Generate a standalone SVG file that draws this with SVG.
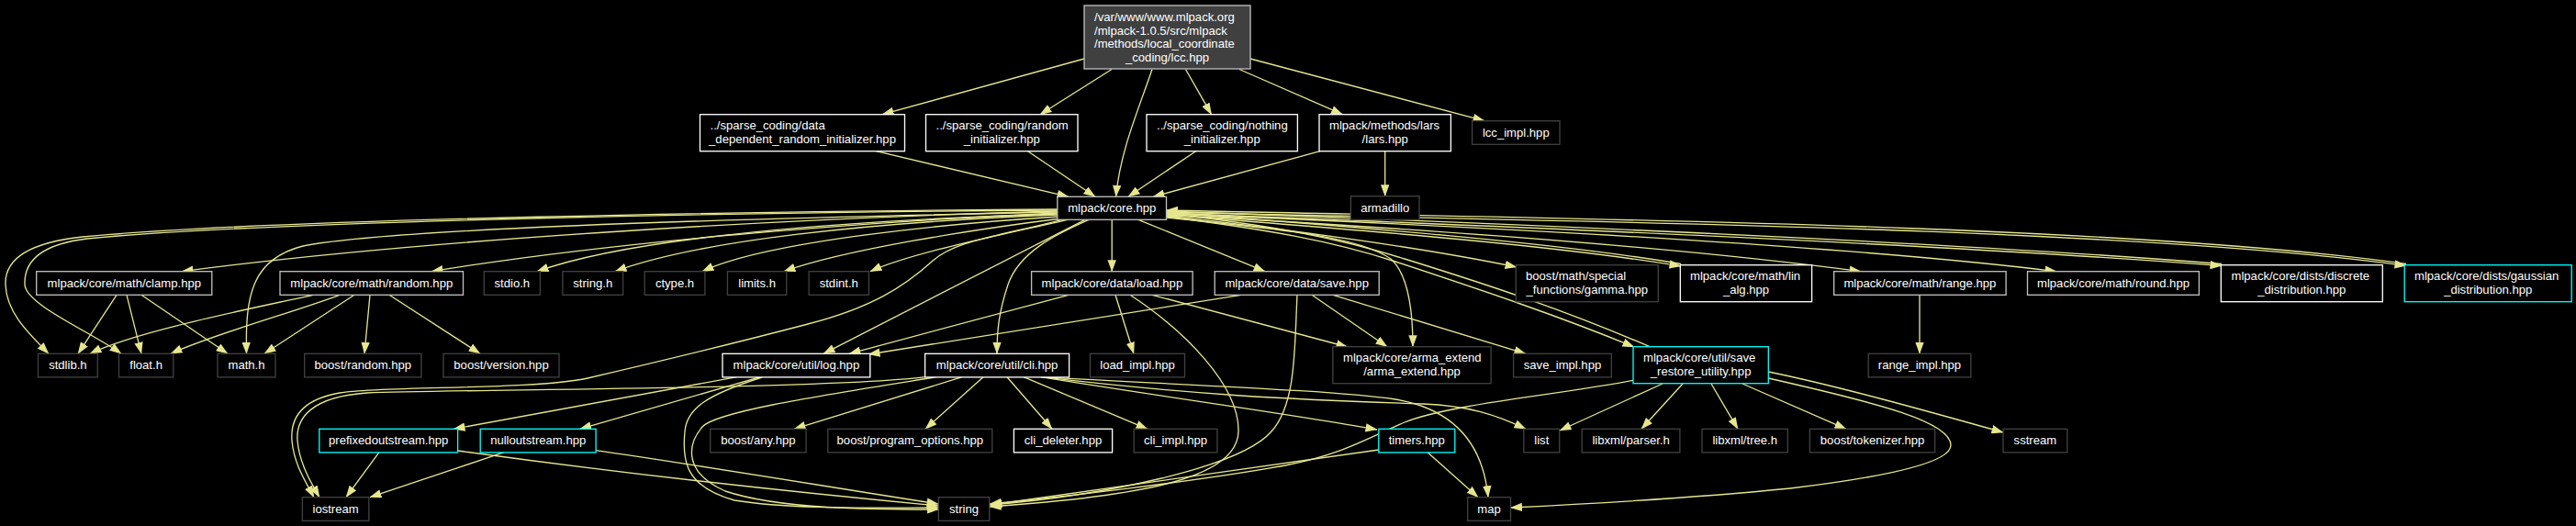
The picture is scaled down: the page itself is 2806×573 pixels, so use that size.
<svg xmlns="http://www.w3.org/2000/svg" width="2806" height="573" viewBox="0 0 2806 573">
<defs>
<marker id="ah" viewBox="0 0 13 9.4" refX="12.5" refY="4.7" markerWidth="13" markerHeight="9.4" markerUnits="userSpaceOnUse" orient="auto"><path d="M0,0 L13,4.7 L0,9.4 z" fill="#e6e68f"/></marker>
<style>
rect.b { fill:#000; stroke-width:1.33; }
.doc { stroke:#ffffff; }
.grey { stroke:#bfbfbf; }
.ext { stroke:#404040; }
.trunc { stroke:#00ffff; }
text { font-family:"Liberation Sans", Arial, sans-serif; font-size:13.1px; fill:#ffffff; }
.c { text-anchor:middle; }
#edges path { fill:none; stroke:#e6e68f; stroke-width:1.33; marker-end:url(#ah); }
</style>
</defs>
<rect x="0" y="0" width="2806" height="573" fill="#000"/>
<g id="edges">
<path d="M1181,64 L961,124.7"/>
<path d="M1211,75.5 L1133,124.7"/>
<path d="M1255,75.5 C1240,120 1220,165 1215.6,214.3"/>
<path d="M1291.5,75.5 L1319.6,124.7"/>
<path d="M1350,75.5 L1462.5,124.7"/>
<path d="M1362,64 L1617,131.7"/>
<path d="M954.5,164.7 L1164,214.3"/>
<path d="M1119.6,164.7 L1193,214.3"/>
<path d="M1302.6,164.7 L1229,214.3"/>
<path d="M1438,164.7 L1256,214.3"/>
<path d="M1508.7,164.7 L1508.7,213.7"/>
<path d="M1152,228 C850,230 300,238 90,258 C25,265 5,285 6,310 C7,340 30,362 53,385.3"/>
<path d="M1152,229 C850,231 300,240 95,260 C45,266 26,285 27,310 C28,332 100,362 132,385.3"/>
<path d="M1152,230 C850,238 450,262 198,295.7"/>
<path d="M1152,231 C800,238 420,250 330,268 C275,282 267,320 268.5,385.3"/>
<path d="M1152,232 C900,244 650,266 470,295.7"/>
<path d="M1152,233 C920,240 690,258 585,295.7"/>
<path d="M1152,234 C950,242 760,262 670,295.7"/>
<path d="M1153,236 C1010,245 830,265 765,295.7"/>
<path d="M1156,238 C1060,250 920,272 854,295.7"/>
<path d="M1163,239.3 C1090,256 990,276 948,295.7"/>
<path d="M1182,239.3 L897,385.3"/>
<path d="M1157,239.3 C1085,258 1040,262 1015,285 C985,312 950,335 880,353 C800,374 700,398 640,412 C580,425 420,420 370,428 C330,435 316,455 318,480 C320,505 333,525 342,541.7"/>
<path d="M1186,239.3 C1150,255 1110,275 1098,310 C1088,340 1086,360 1086,385.3"/>
<path d="M1211.2,239.3 L1211.2,295.7"/>
<path d="M1240,239.3 L1378,295.7"/>
<path d="M1270.5,237 C1400,250 1480,258 1515,282 C1535,300 1539,340 1539,377.7"/>
<path d="M1270.5,235 C1420,252 1560,272 1652,291"/>
<path d="M1270.5,234 C1500,252 1700,268 1831,290"/>
<path d="M1831,287.5 C1700,265 1500,249 1270.5,231.5"/>
<path d="M1270.5,234 C1600,252 1850,272 2027,295.7"/>
<path d="M1270.5,233 C1700,250 2050,272 2240,295.7"/>
<path d="M1270.5,232 C1600,245 2100,265 2420,289.5"/>
<path d="M2420,287.5 C2100,262 1600,242 1270.5,230"/>
<path d="M1270.5,231 C1600,240 2300,245 2621,289.5"/>
<path d="M2621,287.5 C2300,242 1600,237 1270.5,229"/>
<path d="M1270.5,236 C1380,250 1450,262 1520,285 C1620,318 1700,345 1780,378"/>
<path d="M1797,377.7 C1710,340 1630,313 1530,282 C1460,260 1390,246 1270.5,232.5"/>
<path d="M1164,321.3 L925,385.3"/>
<path d="M1215,321.3 L1235,385.3"/>
<path d="M1255,321.3 L1468,378"/>
<path d="M1231,321.3 C1290,360 1350,420 1349,470 C1348,520 1250,540 1078,552"/>
<path d="M1352,321.3 L946,386"/>
<path d="M1429,321.3 L1511,377.7"/>
<path d="M1452,321.3 L1662,385.3"/>
<path d="M1413,321.3 C1410,380 1412,440 1385,470 C1350,510 1200,540 1078,550"/>
<path d="M802.6,410.7 L494,467.3"/>
<path d="M828,410.7 L631.6,467.3"/>
<path d="M830,411 C770,430 748,445 746,470 C743,500 745,530 800,545 C860,555 950,553 1022,553"/>
<path d="M1020,410.7 C900,430 780,448 765,465 C748,485 745,515 790,535 C850,555 950,555 1022,555"/>
<path d="M1008,410.7 C900,424 500,424 400,428 C340,432 322,455 324,480 C326,505 340,528 348,541.7"/>
<path d="M1048,410.7 L865,467.3"/>
<path d="M1071,410.7 L1008,467.3"/>
<path d="M1097,410.7 L1146,467.3"/>
<path d="M1115,410.7 L1250,467.3"/>
<path d="M1134,410.7 C1250,430 1400,450 1500,468"/>
<path d="M1134,410.7 C1300,430 1400,435 1550,440 C1600,442 1630,452 1662,467.3"/>
<path d="M1134,410.7 C1300,420 1450,425 1520,435 C1580,445 1615,480 1621,541.7"/>
<path d="M1502,490 L1079,550"/>
<path d="M1555,492.7 L1610,541.7"/>
<path d="M1781,414 C1700,430 1580,440 1530,460 C1480,482 1460,495 1400,507 C1300,525 1150,542 1078,549"/>
<path d="M1811,418 L1699,469"/>
<path d="M1833,418 L1788,467.3"/>
<path d="M1864,418 L1893,467.3"/>
<path d="M1898,418 L2011,467.3"/>
<path d="M1926.3,405 C2000,420 2100,448 2182,471"/>
<path d="M1926.3,412 C2050,440 2125,460 2125,485 C2125,505 2050,520 1950,532 C1850,542 1750,548 1645.5,553"/>
<path d="M413,492.7 L377,541.7"/>
<path d="M498.6,491 C600,505 800,530 1022,551"/>
<path d="M549,492.7 L403,541.7"/>
<path d="M649,490.7 C750,505 900,530 1022,549"/>
<path d="M341,321.3 C280,335 150,360 98,385.3"/>
<path d="M370,321.3 C320,340 230,365 186,385.3"/>
<path d="M386,321.3 L288,385.3"/>
<path d="M403,321.3 L397,385.3"/>
<path d="M424,321.3 L523,385.3"/>
<path d="M127,321.3 L85,385.3"/>
<path d="M138,321.3 L154,385.3"/>
<path d="M154,321.3 L248,385.3"/>
<path d="M2091,321.3 L2091,385.3"/>
</g>
<g id="n0"><rect x="1181" y="6" width="181" height="69" fill="#404040" stroke="#bfbfbf" stroke-width="1.33"/><text x="1192" y="22.8">/var/www/www.mlpack.org</text><text x="1192" y="37.5">/mlpack-1.0.5/src/mlpack</text><text x="1192" y="52.1">/methods/local_coordinate</text><text class="c" x="1271.5" y="66.8">_coding/lcc.hpp</text></g>
<g id="n1"><rect class="b doc" x="762.5" y="124.7" width="223" height="40"/><text x="773.5" y="141">../sparse_coding/data</text><text class="c" x="874" y="155.7">_dependent_random_initializer.hpp</text></g>
<g id="n2"><rect class="b doc" x="1008.5" y="124.7" width="165.5" height="40"/><text x="1019.5" y="141">../sparse_coding/random</text><text class="c" x="1091.3" y="155.7">_initializer.hpp</text></g>
<g id="n3"><rect class="b doc" x="1249" y="124.7" width="164.4" height="40"/><text x="1260" y="141">../sparse_coding/nothing</text><text class="c" x="1331.2" y="155.7">_initializer.hpp</text></g>
<g id="n4"><rect class="b doc" x="1437" y="124.7" width="143.4" height="40"/><text x="1448" y="141">mlpack/methods/lars</text><text class="c" x="1508.7" y="155.7">/lars.hpp</text></g>
<g id="n5"><rect class="b ext" x="1603.6" y="131.7" width="95.4" height="25.6"/><text class="c" x="1651.3" y="148.8">lcc_impl.hpp</text></g>
<g id="n6"><rect class="b ext" x="1471.4" y="213.7" width="74.6" height="25.6"/><text class="c" x="1508.7" y="230.8">armadillo</text></g>
<g id="n7"><rect class="b grey" x="1151.8" y="214.3" width="118.7" height="25"/><text class="c" x="1211.2" y="231.1">mlpack/core.hpp</text></g>
<g id="n8"><rect class="b grey" x="39.7" y="295.7" width="191.1" height="25.6"/><text class="c" x="135.3" y="312.8">mlpack/core/math/clamp.hpp</text></g>
<g id="n9"><rect class="b grey" x="305" y="295.7" width="199.5" height="25.6"/><text class="c" x="404.8" y="312.8">mlpack/core/math/random.hpp</text></g>
<g id="n10"><rect class="b ext" x="527.2" y="295.7" width="61.2" height="25.6"/><text class="c" x="557.8" y="312.8">stdio.h</text></g>
<g id="n11"><rect class="b ext" x="612.9" y="295.7" width="65.7" height="25.6"/><text class="c" x="645.8" y="312.8">string.h</text></g>
<g id="n12"><rect class="b ext" x="702.2" y="295.7" width="65.7" height="25.6"/><text class="c" x="735" y="312.8">ctype.h</text></g>
<g id="n13"><rect class="b ext" x="792.4" y="295.7" width="64.3" height="25.6"/><text class="c" x="824.6" y="312.8">limits.h</text></g>
<g id="n14"><rect class="b ext" x="881.2" y="295.7" width="65.2" height="25.6"/><text class="c" x="913.8" y="312.8">stdint.h</text></g>
<g id="n15"><rect class="b grey" x="1123.6" y="295.7" width="175.5" height="25.6"/><text class="c" x="1211.4" y="312.8">mlpack/core/data/load.hpp</text></g>
<g id="n16"><rect class="b grey" x="1323.2" y="295.7" width="179" height="25.6"/><text class="c" x="1412.7" y="312.8">mlpack/core/data/save.hpp</text></g>
<g id="n17"><rect class="b ext" x="1651.3" y="288.7" width="155" height="40"/><text x="1662" y="305">boost/math/special</text><text class="c" x="1728.8" y="319.7">_functions/gamma.hpp</text></g>
<g id="n18"><rect class="b doc" x="1830.3" y="288.7" width="143.3" height="40"/><text x="1841" y="305">mlpack/core/math/lin</text><text class="c" x="1902" y="319.7">_alg.hpp</text></g>
<g id="n19"><rect class="b grey" x="1997.7" y="295.7" width="187.4" height="25.6"/><text class="c" x="2091.4" y="312.8">mlpack/core/math/range.hpp</text></g>
<g id="n20"><rect class="b grey" x="2208.5" y="295.7" width="186.9" height="25.6"/><text class="c" x="2302" y="312.8">mlpack/core/math/round.hpp</text></g>
<g id="n21"><rect class="b doc" x="2419.3" y="288.7" width="176" height="40"/><text x="2430.5" y="305">mlpack/core/dists/discrete</text><text class="c" x="2507.3" y="319.7">_distribution.hpp</text></g>
<g id="n22"><rect class="b trunc" x="2619.2" y="288.7" width="182" height="40"/><text x="2630" y="305">mlpack/core/dists/gaussian</text><text class="c" x="2710.2" y="319.7">_distribution.hpp</text></g>
<g id="n23"><rect class="b ext" x="41.5" y="385.3" width="64.8" height="25.6"/><text class="c" x="73.9" y="402.4">stdlib.h</text></g>
<g id="n24"><rect class="b ext" x="129.5" y="385.3" width="59.3" height="25.6"/><text class="c" x="159.1" y="402.4">float.h</text></g>
<g id="n25"><rect class="b ext" x="237" y="385.3" width="63" height="25.6"/><text class="c" x="268.5" y="402.4">math.h</text></g>
<g id="n26"><rect class="b ext" x="331.7" y="385.3" width="127.2" height="25.6"/><text class="c" x="395.3" y="402.4">boost/random.hpp</text></g>
<g id="n27"><rect class="b ext" x="483" y="385.3" width="126" height="25.6"/><text class="c" x="546" y="402.4">boost/version.hpp</text></g>
<g id="n28"><rect class="b doc" x="787" y="385.3" width="160.8" height="25.6"/><text class="c" x="867.4" y="402.4">mlpack/core/util/log.hpp</text></g>
<g id="n29"><rect class="b doc" x="1007.6" y="385.3" width="157" height="25.6"/><text class="c" x="1086.1" y="402.4">mlpack/core/util/cli.hpp</text></g>
<g id="n30"><rect class="b ext" x="1187.5" y="385.3" width="103" height="25.6"/><text class="c" x="1239" y="402.4">load_impl.hpp</text></g>
<g id="n31"><rect class="b ext" x="1451.8" y="377.7" width="172.3" height="40"/><text x="1463" y="394">mlpack/core/arma_extend</text><text class="c" x="1538" y="408.7">/arma_extend.hpp</text></g>
<g id="n32"><rect class="b ext" x="1648.6" y="385.3" width="106.7" height="25.6"/><text class="c" x="1702" y="402.4">save_impl.hpp</text></g>
<g id="n33"><rect class="b trunc" x="1779" y="377.7" width="147.3" height="40"/><text x="1790" y="394">mlpack/core/util/save</text><text class="c" x="1852.6" y="408.7">_restore_utility.hpp</text></g>
<g id="n34"><rect class="b ext" x="2035.2" y="385.3" width="111.6" height="25.6"/><text class="c" x="2091" y="402.4">range_impl.hpp</text></g>
<g id="n35"><rect class="b trunc" x="347.8" y="467.3" width="150.8" height="25.6"/><text class="c" x="423.2" y="484.4">prefixedoutstream.hpp</text></g>
<g id="n36"><rect class="b trunc" x="523.2" y="467.3" width="125.9" height="25.6"/><text class="c" x="586.2" y="484.4">nulloutstream.hpp</text></g>
<g id="n37"><rect class="b ext" x="773.7" y="467.3" width="104.4" height="25.6"/><text class="c" x="825.9" y="484.4">boost/any.hpp</text></g>
<g id="n38"><rect class="b ext" x="901.8" y="467.3" width="179" height="25.6"/><text class="c" x="991.3" y="484.4">boost/program_options.hpp</text></g>
<g id="n39"><rect class="b doc" x="1104.4" y="467.3" width="107.2" height="25.6"/><text class="c" x="1158" y="484.4">cli_deleter.hpp</text></g>
<g id="n40"><rect class="b ext" x="1235.2" y="467.3" width="90.7" height="25.6"/><text class="c" x="1280.5" y="484.4">cli_impl.hpp</text></g>
<g id="n41"><rect class="b trunc" x="1501.8" y="467.3" width="83" height="25.6"/><text class="c" x="1543.3" y="484.4">timers.hpp</text></g>
<g id="n42"><rect class="b ext" x="1659.8" y="467.3" width="38.9" height="25.6"/><text class="c" x="1679.3" y="484.4">list</text></g>
<g id="n43"><rect class="b ext" x="1723.2" y="467.3" width="106.7" height="25.6"/><text class="c" x="1776.6" y="484.4">libxml/parser.h</text></g>
<g id="n44"><rect class="b ext" x="1854" y="467.3" width="93.3" height="25.6"/><text class="c" x="1900.7" y="484.4">libxml/tree.h</text></g>
<g id="n45"><rect class="b ext" x="1971.4" y="467.3" width="136.3" height="25.6"/><text class="c" x="2039.6" y="484.4">boost/tokenizer.hpp</text></g>
<g id="n46"><rect class="b ext" x="2182" y="467.3" width="69.8" height="25.6"/><text class="c" x="2216.9" y="484.4">sstream</text></g>
<g id="n47"><rect class="b ext" x="329.4" y="541.7" width="72.4" height="25.6"/><text class="c" x="365.6" y="558.8">iostream</text></g>
<g id="n48"><rect class="b ext" x="1022.3" y="541.7" width="55.4" height="25.6"/><text class="c" x="1050" y="558.8">string</text></g>
<g id="n49"><rect class="b ext" x="1598.7" y="541.7" width="46.8" height="25.6"/><text class="c" x="1622.1" y="558.8">map</text></g>
</svg>
